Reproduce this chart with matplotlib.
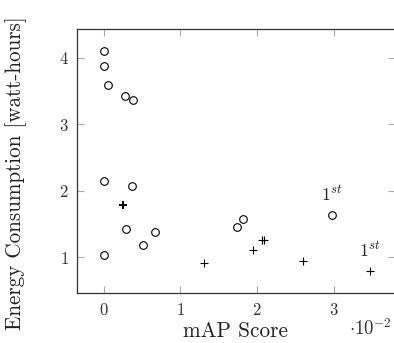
import matplotlib
matplotlib.use("Agg")
import matplotlib.pyplot as plt

plt.rcParams['mathtext.fontset'] = 'cm'
plt.rcParams['font.family'] = 'serif'
plt.rcParams['font.serif'] = ['cmr10', 'DejaVu Serif']
plt.rcParams['axes.formatter.use_mathtext'] = True

# mAP score (x 1e-2) and energy (watt-hours)
circle_x = [0.0, 0.0, 0.063, 0.285, 0.39, 0.0, 0.373, 0.294, 0.664, 0.52, 0.0, 1.74, 1.81, 2.97]
circle_y = [4.10, 3.875, 3.59, 3.43, 3.37, 2.15, 2.07, 1.42, 1.38, 1.19, 1.04, 1.45, 1.57, 1.63]
plus_x = [1.31, 1.95, 2.07, 2.09, 2.60, 3.47]
plus_y = [0.92, 1.11, 1.26, 1.26, 0.94, 0.79]
bold_plus_x = [0.25]
bold_plus_y = [1.78]
annot_x = [2.97, 3.47]
annot_y = [1.63, 0.79]
annot_text = ['$1^{st}$', '$1^{st}$']
xticks = [0, 1, 2, 3]
yticks = [1, 2, 3, 4]

fig = plt.figure(figsize=(3.94, 3.43), dpi=100)
ax = fig.add_axes([0.1954, 0.145, 0.806, 0.7705])

ax.plot(circle_x, circle_y, linestyle='none', marker='o', markersize=5.5,
        markerfacecolor='white', markeredgecolor='black', markeredgewidth=0.8)
ax.plot(plus_x, plus_y, linestyle='none', marker='+', markersize=6,
        color='black', markeredgewidth=0.8)
ax.plot(bold_plus_x, bold_plus_y, linestyle='none', marker='+', markersize=6,
        color='black', markeredgewidth=1.4)

for x, y, t in zip(annot_x, annot_y, annot_text):
    ax.annotate(t, (x, y), xytext=(0, 8), textcoords='offset points',
                ha='center', va='bottom', fontsize=13, color='#222222')

ax.set_xlim(-0.346, 3.79)
ax.set_ylim(0.46, 4.43)
ax.set_xticks(xticks)
ax.set_yticks(yticks)
ax.set_xticklabels([f'${v}$' for v in xticks], fontsize=12, color='#333333')
ax.set_yticklabels([f'${v}$' for v in yticks], fontsize=12, color='#333333')
ax.tick_params(direction='in', length=5, width=0.8, color='#aaaaaa',
               top=True, right=True, pad=6)
for s in ax.spines.values():
    s.set_color('#333333')
    s.set_linewidth(0.9)

ax.set_xlabel('mAP Score', fontsize=15.3, labelpad=3, color='#222222')
ax.set_ylabel('Energy Consumption [watt-hours]', fontsize=15.2, color='#222222')
ax.yaxis.set_label_coords(-0.157, 0.455)
fig.text(0.995, 0.012, r'$\cdot 10^{-2}$', ha='right', va='bottom', fontsize=13.5, color='#333333')

fig.savefig('out.png', dpi=100)
